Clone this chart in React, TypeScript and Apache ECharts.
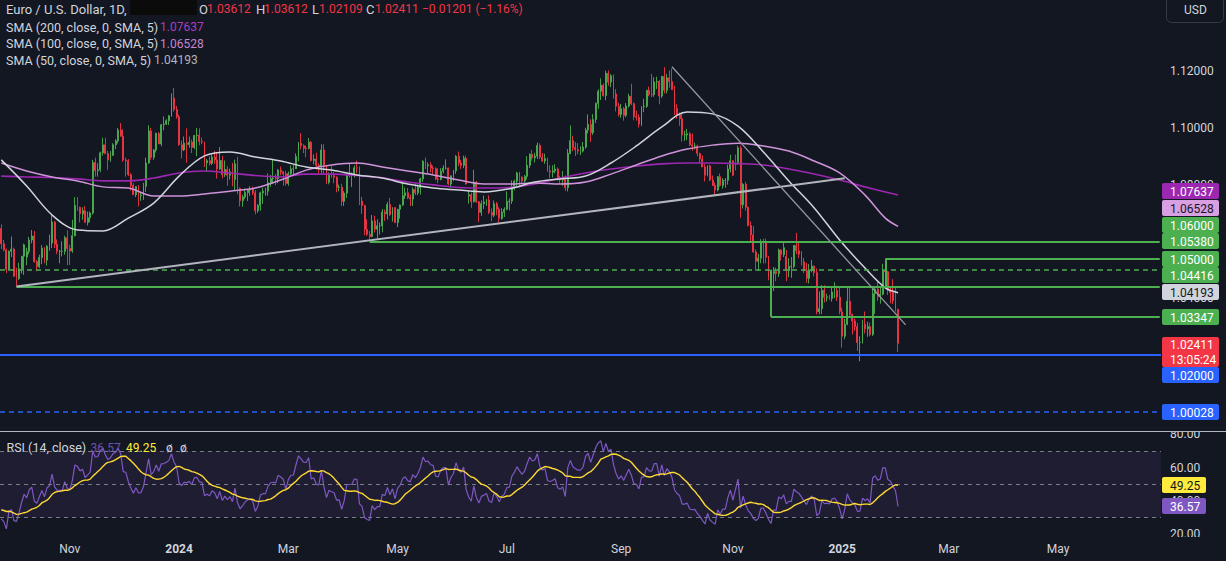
import React, { useEffect, useRef } from "react";
import * as echarts from "echarts";

// ---------------- DATA ----------------
// Daily OHLC [open, high, low, close], EUR/USD, grouped by month
const sep2023 = [
  [1.0645, 1.066, 1.0573, 1.0592], [1.0592, 1.0605, 1.0565, 1.057], [1.057, 1.0575, 1.0488, 1.0502],
  [1.0502, 1.0568, 1.0496, 1.0565], [1.0565, 1.0617, 1.0545, 1.0573],
];
const oct2023 = [
  [1.0573, 1.0578, 1.0475, 1.0477], [1.0477, 1.0507, 1.04416, 1.0469], [1.0469, 1.0525, 1.0464, 1.0504],
  [1.0504, 1.0548, 1.0487, 1.0548], [1.0548, 1.0592, 1.0482, 1.0588], [1.0545, 1.0578, 1.0516, 1.0564],
  [1.0564, 1.0616, 1.0555, 1.0605], [1.0605, 1.064, 1.0593, 1.0619], [1.0619, 1.0637, 1.0525, 1.0529],
  [1.0529, 1.0534, 1.0495, 1.0511], [1.0511, 1.0553, 1.0506, 1.0543], [1.0543, 1.0587, 1.052, 1.0576],
  [1.0576, 1.058, 1.0523, 1.0534], [1.0534, 1.0587, 1.0515, 1.0583], [1.0583, 1.0624, 1.0567, 1.0594],
  [1.0594, 1.0695, 1.0576, 1.0668], [1.0668, 1.0672, 1.0577, 1.059], [1.059, 1.0607, 1.0555, 1.0565],
  [1.0565, 1.057, 1.0523, 1.0565], [1.0565, 1.06, 1.0547, 1.0565], [1.0565, 1.062, 1.0553, 1.0613],
  [1.0613, 1.0639, 1.0516, 1.0575],
];
const nov2023 = [
  [1.0575, 1.0588, 1.0517, 1.0566], [1.0566, 1.0676, 1.056, 1.062], [1.062, 1.0756, 1.0618, 1.0727],
  [1.0727, 1.0756, 1.0707, 1.072], [1.072, 1.0722, 1.0667, 1.0697], [1.0697, 1.072, 1.0676, 1.0708],
  [1.0708, 1.0724, 1.0666, 1.0667], [1.0667, 1.0705, 1.0656, 1.0683], [1.0683, 1.0705, 1.0667, 1.07],
  [1.07, 1.0887, 1.0694, 1.0878], [1.0878, 1.0895, 1.0828, 1.0849], [1.0849, 1.0875, 1.0828, 1.0852],
  [1.0852, 1.0916, 1.0844, 1.0912], [1.0912, 1.0965, 1.0902, 1.094], [1.094, 1.0965, 1.0909, 1.0909],
  [1.0909, 1.0919, 1.0852, 1.0887], [1.0887, 1.0918, 1.088, 1.0903], [1.0903, 1.0946, 1.0901, 1.094],
  [1.094, 1.096, 1.0925, 1.0954], [1.0954, 1.1, 1.0945, 1.0992], [1.0992, 1.1017, 1.0969, 1.097],
  [1.097, 1.0995, 1.088, 1.0887],
];
const dec2023 = [
  [1.0887, 1.0895, 1.0828, 1.0884], [1.0884, 1.089, 1.083, 1.0835], [1.0835, 1.084, 1.0779, 1.0797],
  [1.0797, 1.0805, 1.0764, 1.0764], [1.0764, 1.0794, 1.0756, 1.0793], [1.0793, 1.0799, 1.0723, 1.0761],
  [1.0761, 1.0774, 1.0743, 1.0763], [1.0763, 1.0806, 1.0746, 1.0794], [1.0794, 1.0895, 1.0774, 1.0876],
  [1.0876, 1.1009, 1.0874, 1.0989], [1.0989, 1.1, 1.0888, 1.0896], [1.0896, 1.0925, 1.0887, 1.0922],
  [1.0922, 1.0983, 1.0913, 1.098], [1.098, 1.0985, 1.0943, 1.0943], [1.0943, 1.1014, 1.0935, 1.1011],
  [1.1011, 1.104, 1.0991, 1.1013], [1.1013, 1.103, 1.101, 1.1025], [1.1025, 1.1045, 1.101, 1.1042],
  [1.1042, 1.1121, 1.1039, 1.1105], [1.1105, 1.114, 1.1057, 1.1064], [1.1064, 1.1077, 1.1032, 1.1039],
];
const jan2024 = [
  [1.1039, 1.1046, 1.0937, 1.094], [1.094, 1.0955, 1.0892, 1.0922], [1.0922, 1.0969, 1.0918, 1.0946],
  [1.0946, 1.0998, 1.0877, 1.0941], [1.0941, 1.0969, 1.093, 1.095], [1.095, 1.0959, 1.0911, 1.0931],
  [1.0931, 1.0975, 1.0925, 1.0973], [1.0973, 1.0999, 1.09, 1.0974], [1.0974, 1.0998, 1.0938, 1.0952],
  [1.0952, 1.0966, 1.0942, 1.095], [1.095, 1.0951, 1.0862, 1.0877], [1.0877, 1.089, 1.0844, 1.0884],
  [1.0884, 1.0899, 1.0867, 1.0875], [1.0875, 1.0906, 1.0869, 1.0897], [1.0897, 1.0919, 1.0873, 1.0887],
  [1.0887, 1.0915, 1.0821, 1.0855], [1.0855, 1.0932, 1.0852, 1.0885], [1.0885, 1.0901, 1.0822, 1.0835],
  [1.0835, 1.0885, 1.0827, 1.0853], [1.0853, 1.0865, 1.0796, 1.0833], [1.0833, 1.0856, 1.0818, 1.0845],
  [1.0845, 1.0876, 1.0794, 1.0818],
];
const feb2024 = [
  [1.0818, 1.0888, 1.078, 1.0873], [1.0873, 1.0898, 1.0766, 1.0787], [1.0787, 1.079, 1.0723, 1.0743],
  [1.0743, 1.0764, 1.0722, 1.0756], [1.0756, 1.0786, 1.0749, 1.0772], [1.0772, 1.0783, 1.0742, 1.0781],
  [1.0781, 1.0794, 1.0761, 1.0785], [1.0785, 1.0793, 1.0763, 1.0771], [1.0771, 1.0781, 1.0695, 1.0708],
  [1.0708, 1.0731, 1.0701, 1.0727], [1.0727, 1.0775, 1.0708, 1.0771], [1.0771, 1.0789, 1.0732, 1.0777],
  [1.0777, 1.0789, 1.0761, 1.0777], [1.0777, 1.0839, 1.0761, 1.0807], [1.0807, 1.0834, 1.0793, 1.0821],
  [1.0821, 1.0888, 1.0803, 1.0823], [1.0823, 1.0837, 1.0798, 1.0821], [1.0821, 1.0855, 1.0805, 1.0851],
  [1.0851, 1.0864, 1.0833, 1.0845], [1.0845, 1.0847, 1.0796, 1.0838], [1.0838, 1.0848, 1.0796, 1.0804],
];
const mar2024 = [
  [1.0804, 1.0846, 1.0796, 1.0838], [1.0838, 1.0867, 1.0832, 1.0855], [1.0855, 1.087, 1.0831, 1.0856],
  [1.0856, 1.091, 1.0855, 1.0899], [1.0899, 1.095, 1.0882, 1.0946], [1.0946, 1.0981, 1.0924, 1.0937],
  [1.0937, 1.0942, 1.0911, 1.0928], [1.0928, 1.0937, 1.0896, 1.0927], [1.0927, 1.0964, 1.0924, 1.0949],
  [1.0949, 1.0954, 1.0881, 1.0885], [1.0885, 1.0906, 1.0871, 1.089], [1.089, 1.0912, 1.0853, 1.0868],
  [1.0868, 1.0875, 1.0835, 1.0865], [1.0865, 1.0942, 1.0839, 1.0922], [1.0922, 1.0942, 1.0838, 1.0862],
  [1.0862, 1.0867, 1.0802, 1.0808], [1.0808, 1.0843, 1.0801, 1.0838], [1.0838, 1.0865, 1.0824, 1.0831],
  [1.0831, 1.0845, 1.0805, 1.0826], [1.0826, 1.0829, 1.0773, 1.079], [1.079, 1.08, 1.0776, 1.0791],
];
const apr2024 = [
  [1.0791, 1.0803, 1.0724, 1.0741], [1.0741, 1.0777, 1.0725, 1.077], [1.077, 1.0838, 1.0753, 1.0836],
  [1.0836, 1.0876, 1.0826, 1.0836], [1.0836, 1.0843, 1.0792, 1.0837], [1.0837, 1.0868, 1.0825, 1.0859],
  [1.0859, 1.0885, 1.084, 1.0858], [1.0858, 1.0865, 1.0728, 1.0742], [1.0742, 1.0757, 1.0697, 1.0726],
  [1.0726, 1.0729, 1.0622, 1.0642], [1.0642, 1.0678, 1.0619, 1.0625], [1.0625, 1.0637, 1.0601, 1.0617],
  [1.0617, 1.0693, 1.0615, 1.0672], [1.0672, 1.069, 1.0631, 1.0643], [1.0643, 1.0678, 1.061, 1.0655],
  [1.0655, 1.0667, 1.0624, 1.0655], [1.0655, 1.0714, 1.0632, 1.0703], [1.0703, 1.0712, 1.0672, 1.0697],
  [1.0697, 1.0739, 1.0677, 1.073], [1.073, 1.0753, 1.069, 1.0694], [1.0694, 1.072, 1.067, 1.0719],
  [1.0719, 1.072, 1.0665, 1.0666],
];
const may2024 = [
  [1.0666, 1.0715, 1.065, 1.0713], [1.0713, 1.073, 1.068, 1.0728], [1.0728, 1.0812, 1.0725, 1.0761],
  [1.0761, 1.079, 1.075, 1.0771], [1.0771, 1.0788, 1.0749, 1.0754], [1.0754, 1.0765, 1.0724, 1.0749],
  [1.0749, 1.079, 1.0725, 1.0783], [1.0783, 1.0804, 1.0763, 1.0771], [1.0771, 1.0801, 1.0763, 1.079],
  [1.079, 1.0824, 1.0765, 1.082], [1.082, 1.0886, 1.081, 1.0882], [1.0882, 1.0895, 1.0855, 1.0866],
  [1.0866, 1.0878, 1.084, 1.087], [1.087, 1.0879, 1.0843, 1.0858], [1.0858, 1.0867, 1.0836, 1.0856],
  [1.0856, 1.0861, 1.0815, 1.082], [1.082, 1.0858, 1.0805, 1.0818], [1.0818, 1.0858, 1.0815, 1.0847],
  [1.0847, 1.0868, 1.084, 1.0858], [1.0858, 1.0889, 1.0853, 1.0858], [1.0858, 1.086, 1.0798, 1.0802],
  [1.0802, 1.0832, 1.0788, 1.0831], [1.0831, 1.0852, 1.0812, 1.0849],
];
const jun2024 = [
  [1.0849, 1.0904, 1.0838, 1.09], [1.09, 1.0916, 1.0865, 1.0876], [1.0876, 1.0887, 1.0855, 1.0868],
  [1.0868, 1.0902, 1.0858, 1.0893], [1.0893, 1.0902, 1.08, 1.0802], [1.076, 1.078, 1.0733, 1.0764],
  [1.0764, 1.0772, 1.0718, 1.074], [1.074, 1.0852, 1.0737, 1.0808], [1.0808, 1.0813, 1.0735, 1.074],
  [1.074, 1.0742, 1.0668, 1.0702], [1.0702, 1.0744, 1.069, 1.0733], [1.0733, 1.0761, 1.0714, 1.0739],
  [1.0739, 1.0749, 1.0725, 1.0746], [1.0746, 1.0762, 1.0696, 1.0702], [1.0702, 1.0716, 1.0671, 1.0692],
  [1.0692, 1.0744, 1.0685, 1.0733], [1.0733, 1.0739, 1.0692, 1.0714], [1.0714, 1.072, 1.0666, 1.0681],
  [1.0681, 1.0717, 1.0676, 1.0703], [1.0703, 1.072, 1.0686, 1.0713],
];
const jul2024 = [
  [1.0713, 1.0776, 1.071, 1.074], [1.074, 1.0752, 1.0709, 1.0742], [1.0742, 1.0815, 1.0732, 1.0792],
  [1.0792, 1.0817, 1.078, 1.0812], [1.0812, 1.0845, 1.0795, 1.0841], [1.0841, 1.0845, 1.079, 1.0826],
  [1.0826, 1.0829, 1.0802, 1.0813], [1.0813, 1.0834, 1.0807, 1.0829], [1.0829, 1.09, 1.0818, 1.0868],
  [1.0868, 1.091, 1.0858, 1.0907], [1.0907, 1.0922, 1.0884, 1.0894], [1.0894, 1.0912, 1.0878, 1.09],
  [1.09, 1.0948, 1.089, 1.0938], [1.0938, 1.0945, 1.089, 1.0897], [1.0897, 1.0911, 1.088, 1.0883],
  [1.0883, 1.0909, 1.0873, 1.0892], [1.0892, 1.0895, 1.0845, 1.0848], [1.0848, 1.0868, 1.0822, 1.0844],
  [1.0844, 1.0868, 1.0825, 1.0848], [1.0848, 1.0872, 1.084, 1.0855], [1.0855, 1.086, 1.0814, 1.0823],
  [1.0823, 1.0831, 1.0802, 1.0817], [1.0817, 1.0848, 1.0796, 1.0825],
];
const aug2024 = [
  [1.0825, 1.0832, 1.0778, 1.0789], [1.0789, 1.0925, 1.0776, 1.091], [1.091, 1.1008, 1.0907, 1.0955],
  [1.0955, 1.0972, 1.0918, 1.0931], [1.0931, 1.095, 1.0901, 1.0923], [1.0923, 1.0946, 1.0907, 1.0918],
  [1.0918, 1.0935, 1.0904, 1.0918], [1.0918, 1.095, 1.0913, 1.0932], [1.0932, 1.1, 1.0926, 1.0992],
  [1.0992, 1.1047, 1.098, 1.1012], [1.1012, 1.103, 1.095, 1.0983], [1.0983, 1.1048, 1.0975, 1.1029],
  [1.1029, 1.1089, 1.1017, 1.1086], [1.1086, 1.1135, 1.1067, 1.1129], [1.1129, 1.1174, 1.1098, 1.115],
  [1.115, 1.1156, 1.111, 1.1113], [1.1113, 1.1201, 1.1097, 1.1192], [1.1192, 1.1202, 1.1148, 1.1161],
  [1.1161, 1.1189, 1.1143, 1.1183], [1.1183, 1.1188, 1.1102, 1.1119], [1.1119, 1.1136, 1.1058, 1.1076],
  [1.1076, 1.1088, 1.104, 1.1047],
];
const sep2024 = [
  [1.1047, 1.1084, 1.1035, 1.1067], [1.1067, 1.1073, 1.1025, 1.1044], [1.1044, 1.1087, 1.1037, 1.1077],
  [1.1077, 1.112, 1.1071, 1.1111], [1.1111, 1.1155, 1.108, 1.1085], [1.1085, 1.1089, 1.1026, 1.104],
  [1.104, 1.106, 1.1025, 1.1037], [1.1037, 1.1047, 1.1001, 1.1013], [1.1013, 1.1076, 1.1006, 1.1075],
  [1.1075, 1.1102, 1.1055, 1.1076], [1.1076, 1.1134, 1.107, 1.1132], [1.1132, 1.1145, 1.1111, 1.1118],
  [1.1118, 1.119, 1.1108, 1.1117], [1.1117, 1.1178, 1.1109, 1.1162], [1.1162, 1.118, 1.1137, 1.1163],
  [1.1163, 1.1168, 1.1083, 1.1112], [1.1112, 1.1182, 1.1105, 1.1181], [1.1181, 1.1214, 1.1121, 1.1132],
  [1.1132, 1.119, 1.1121, 1.1176], [1.1176, 1.1202, 1.1141, 1.1163], [1.1163, 1.1209, 1.1133, 1.1135],
];
const oct2024 = [
  [1.1135, 1.1148, 1.1045, 1.1068], [1.1068, 1.1083, 1.1032, 1.1045], [1.1045, 1.1054, 1.1007, 1.1032],
  [1.1032, 1.105, 1.0951, 1.0975], [1.0975, 1.099, 1.0954, 1.0975], [1.0975, 1.0996, 1.0957, 1.0979],
  [1.0979, 1.0985, 1.0936, 1.094], [1.094, 1.098, 1.0919, 1.0935], [1.0935, 1.0947, 1.0924, 1.0936],
  [1.0936, 1.0941, 1.09, 1.091], [1.091, 1.0912, 1.0874, 1.089], [1.089, 1.0903, 1.0862, 1.0862],
  [1.0862, 1.0872, 1.0811, 1.0833], [1.0833, 1.0868, 1.0829, 1.0866], [1.0866, 1.087, 1.0812, 1.0816],
  [1.0816, 1.0832, 1.0795, 1.0797], [1.0797, 1.0807, 1.0761, 1.0781], [1.0781, 1.083, 1.0776, 1.0828],
  [1.0828, 1.0839, 1.0793, 1.0797], [1.0797, 1.0823, 1.0786, 1.0815], [1.0815, 1.0823, 1.0789, 1.0815],
  [1.0815, 1.087, 1.08, 1.0855], [1.0855, 1.0905, 1.0843, 1.0884],
];
const nov2024 = [
  [1.0884, 1.0885, 1.083, 1.0833], [1.088, 1.0906, 1.085, 1.0877], [1.0877, 1.0937, 1.087, 1.0929],
  [1.0929, 1.0937, 1.0683, 1.0729], [1.0729, 1.0805, 1.0716, 1.0801], [1.0801, 1.081, 1.0708, 1.072],
  [1.072, 1.0723, 1.0653, 1.0656], [1.0656, 1.067, 1.0595, 1.0623], [1.0623, 1.0653, 1.056, 1.0563],
  [1.0563, 1.0572, 1.0497, 1.053], [1.053, 1.0556, 1.0497, 1.0541], [1.0541, 1.0608, 1.0523, 1.0598],
  [1.0598, 1.0609, 1.0522, 1.0597], [1.0597, 1.061, 1.0523, 1.0544], [1.0544, 1.0549, 1.0463, 1.0474],
  [1.0474, 1.0498, 1.03347, 1.0418], [1.0487, 1.051, 1.0425, 1.0494], [1.0494, 1.0508, 1.046, 1.0487],
  [1.0487, 1.0575, 1.0475, 1.057], [1.057, 1.0572, 1.0532, 1.0553], [1.0553, 1.0596, 1.0545, 1.0578],
];
const dec2024 = [
  [1.0547, 1.057, 1.046, 1.0497], [1.0497, 1.0541, 1.0474, 1.0512], [1.0512, 1.0545, 1.0472, 1.0512],
  [1.0512, 1.0587, 1.0505, 1.0586], [1.0586, 1.063, 1.0555, 1.0567], [1.0567, 1.0595, 1.0541, 1.0555],
  [1.0555, 1.0566, 1.0515, 1.0528], [1.0528, 1.0542, 1.0488, 1.0497], [1.0497, 1.0524, 1.0454, 1.047],
  [1.047, 1.052, 1.0452, 1.05], [1.05, 1.0535, 1.0491, 1.0513], [1.0513, 1.0515, 1.0477, 1.049],
  [1.049, 1.0505, 1.0343, 1.0352], [1.0352, 1.0424, 1.0343, 1.0363], [1.0363, 1.0446, 1.0344, 1.0428],
  [1.0428, 1.0446, 1.0385, 1.0403], [1.0403, 1.0416, 1.0388, 1.0405], [1.0405, 1.0412, 1.0394, 1.0399],
  [1.0399, 1.0436, 1.0388, 1.0422], [1.0422, 1.0456, 1.04, 1.0427], [1.0427, 1.0444, 1.039, 1.0404],
  [1.0404, 1.0436, 1.0343, 1.0354],
];
const jan2025 = [
  [1.0352, 1.0367, 1.0226, 1.0266], [1.0266, 1.0327, 1.0256, 1.0308], [1.0308, 1.0437, 1.0305, 1.0389],
  [1.0389, 1.0437, 1.0338, 1.0342], [1.0342, 1.0346, 1.0272, 1.032], [1.032, 1.0328, 1.0286, 1.03],
  [1.03, 1.0313, 1.0214, 1.0244], [1.0244, 1.0266, 1.0178, 1.0245], [1.0245, 1.0324, 1.024, 1.0308],
  [1.0308, 1.0353, 1.0276, 1.0292], [1.0292, 1.0317, 1.0264, 1.03], [1.03, 1.0314, 1.0266, 1.0272],
  [1.0272, 1.0434, 1.0267, 1.0416], [1.0416, 1.0436, 1.0345, 1.0432], [1.0432, 1.0457, 1.0391, 1.0406],
  [1.0406, 1.0437, 1.0381, 1.0414], [1.0414, 1.0521, 1.041, 1.0496], [1.0496, 1.0538, 1.0432, 1.0493],
  [1.0493, 1.0497, 1.0411, 1.043], [1.043, 1.0442, 1.0382, 1.042], [1.042, 1.0467, 1.038, 1.0391],
  [1.0391, 1.0441, 1.0353, 1.0362],
];
const feb2025 = [[1.03612, 1.03612, 1.02109, 1.02411]];

// closes before the visible window (seed for RSI)
const priorCloses = [
  1.0906, 1.0904, 1.0873, 1.0872, 1.0872, 1.0894, 1.0846, 1.0865, 1.0797, 1.0795, 1.0818, 1.088,
  1.0922, 1.0844, 1.0775, 1.0795, 1.0722, 1.0726, 1.0697, 1.07, 1.075, 1.0752, 1.0731, 1.0643,
  1.0659, 1.069, 1.0678, 1.0662, 1.066, 1.0644,
];

// SMA readings (bar index -> value)
const smaIndex = [0, 10, 20, 30, 40, 50, 60, 70, 80, 90, 100, 110, 120, 130, 140, 150, 160, 170, 180, 190,
  200, 210, 220, 230, 240, 250, 260, 270, 280, 290, 300, 310, 320, 330, 340, 348, 353];
const sma200 = [1.083, 1.0827, 1.0825, 1.082, 1.0813, 1.0813, 1.0823, 1.0841, 1.0848, 1.0841, 1.0832,
  1.0827, 1.0837, 1.0837, 1.0832, 1.0823, 1.0809, 1.0799, 1.079, 1.0788, 1.079, 1.0802, 1.0823, 1.0841,
  1.0855, 1.0865, 1.0873, 1.0876, 1.0876, 1.0874, 1.0869, 1.0855, 1.0837, 1.0816, 1.0792, 1.0774, 1.07637];
const sma100 = [1.0876, 1.0848, 1.0827, 1.0813, 1.0792, 1.0788, 1.076, 1.076, 1.0767, 1.0777, 1.0788,
  1.0816, 1.0851, 1.0869, 1.0876, 1.0862, 1.0848, 1.0834, 1.0816, 1.0802, 1.0802, 1.0806, 1.0802, 1.0809,
  1.0837, 1.0869, 1.0901, 1.0925, 1.0939, 1.0946, 1.0936, 1.0918, 1.0883, 1.0841, 1.0763, 1.0682, 1.06528];
const sma50 = [1.0887, 1.0795, 1.0693, 1.064, 1.0637, 1.0682, 1.0735, 1.083, 1.0901, 1.0915, 1.0897,
  1.0883, 1.0862, 1.0851, 1.0834, 1.0823, 1.0802, 1.0788, 1.0781, 1.0774, 1.0785, 1.0809, 1.082, 1.083,
  1.0876, 1.0936, 1.1003, 1.1056, 1.1049, 1.1006, 1.0915, 1.0813, 1.0718, 1.0605, 1.0506, 1.0436, 1.04193];

// time axis
const startDate = "2023-09-25";
const marketClosed = ["2024-01-01", "2025-01-01"];
const categoryCount = 457;
const monthNames = ["Jan", "Feb", "Mar", "Apr", "May", "Jun", "Jul", "Aug", "Sep", "Oct", "Nov", "Dec"];

// axis ticks (levels fully covered by price badges are not drawn)
const priceTicks = [1.04, 1.08, 1.1, 1.12];
const rsiTicks = [20, 40, 60, 80];
const rsiLevels = [70, 50, 30];

// drawings (bar index, price)
const fullLevels = [
  { price: 1.05, kind: "greenDash" },
  { price: 1.02, kind: "blue" },
  { price: 1.00028, kind: "blueDash" },
];
const rayLevels = [
  { from: 6, price: 1.04416 },
  { from: 145, price: 1.06 },
  { from: 348, price: 1.0538 },
  { from: 303, price: 1.03347 },
];
const verticalMarks = [
  { at: 303, from: 1.05, to: 1.03347 },
  { at: 348, from: 1.0538, to: 1.04416 },
];
const trendLines = [
  { from: [6, 1.04416], to: [332, 1.0822], color: "#b2b5be", width: 2 },
  { from: [264, 1.1215], to: [356, 1.0306], color: "#9598a1", width: 1.3 },
];

// price-scale badges
const priceBadges = [
  { text: "1.07637", bg: "#9c27b0", fg: "#ffffff" },
  { text: "1.06528", bg: "#d89fe2", fg: "#131722" },
  { text: "1.06000", bg: "#4caf50", fg: "#ffffff" },
  { text: "1.05380", bg: "#4caf50", fg: "#ffffff" },
  { text: "1.05000", bg: "#4caf50", fg: "#ffffff" },
  { text: "1.04416", bg: "#4caf50", fg: "#ffffff" },
  { text: "1.04193", bg: "#d1d4dc", fg: "#131722" },
  { text: "1.03347", bg: "#4caf50", fg: "#ffffff" },
  { text: "1.02000", bg: "#2962ff", fg: "#ffffff" },
  { text: "1.00028", bg: "#2962ff", fg: "#ffffff" },
];
const badgeTops = [183, 200, 217, 233, 251, 267, 284, 309, 367, 404];
const lastPrice = { text: "1.02411", countdown: "13:05:24" };
const rsiBadges = [
  { text: "49.25", bg: "#ffeb3b", fg: "#131722" },
  { text: "36.57", bg: "#7e57c2", fg: "#ffffff" },
];
const rsiBadgeTops = [477, 498];

// ---------------- STYLE ----------------
const BG = "#131722";
const TXT = "#d1d4dc";
const UP = "#4caf50";
const DOWN = "#f23645";
const FONT = "Roboto";

function buildCategories(): string[] {
  const out: string[] = [];
  const d = new Date(startDate + "T00:00:00Z");
  while (out.length < categoryCount) {
    const dow = d.getUTCDay();
    const iso = d.toISOString().slice(0, 10);
    if (dow !== 0 && dow !== 6 && !marketClosed.includes(iso)) out.push(iso);
    d.setUTCDate(d.getUTCDate() + 1);
  }
  return out;
}

function computeRsi(closes: number[], period: number): (number | null)[] {
  const out: (number | null)[] = [null];
  let ag = 0;
  let al = 0;
  for (let i = 1; i < closes.length; i++) {
    const ch = closes[i] - closes[i - 1];
    const g = Math.max(ch, 0);
    const l = Math.max(-ch, 0);
    if (i <= period) {
      ag += g / period;
      al += l / period;
      out.push(i === period ? 100 - 100 / (1 + ag / al) : null);
    } else {
      ag = (ag * (period - 1) + g) / period;
      al = (al * (period - 1) + l) / period;
      out.push(al === 0 ? 100 : 100 - 100 / (1 + ag / al));
    }
  }
  return out;
}

function movingAverage(vals: (number | null)[], n: number): (number | null)[] {
  return vals.map((_, i) => {
    const win = vals.slice(Math.max(0, i - n + 1), i + 1).filter((v) => v != null) as number[];
    if (win.length < n) return null;
    return win.reduce((a, b) => a + b, 0) / n;
  });
}

export default function App() {
  const ref = useRef<HTMLDivElement>(null);

  useEffect(() => {
    document.body.style.margin = "0";
    document.body.style.background = BG;
    if (!ref.current) return;
    const chart = echarts.init(ref.current, undefined, { renderer: "svg" });

    const categories = buildCategories();
    const months = [sep2023, oct2023, nov2023, dec2023, jan2024, feb2024, mar2024, apr2024, may2024,
      jun2024, jul2024, aug2024, sep2024, oct2024, nov2024, dec2024, jan2025, feb2025];
    const ohlc = months.flat();
    const candleData = ohlc.map(([o, h, l, c]) => [o, c, l, h]);
    const closes = ohlc.map((r) => r[3]);

    const rsiAll = computeRsi([...priorCloses, ...closes], 14);
    const rsiMaAll = movingAverage(rsiAll, 14);
    const rsi = rsiAll.slice(priorCloses.length).map((v) => (v == null ? null : +v.toFixed(2)));
    const rsiMa = rsiMaAll.slice(priorCloses.length).map((v) => (v == null ? null : +v.toFixed(2)));

    const sampled = (vals: number[]) => {
      const arr: (number | null)[] = new Array(ohlc.length).fill(null);
      smaIndex.forEach((idx, k) => (arr[idx] = vals[k]));
      return arr;
    };

    const firstOfMonth = new Set<number>();
    categories.forEach((c, i) => {
      if (i > 0 && c.slice(0, 7) !== categories[i - 1].slice(0, 7)) firstOfMonth.add(i);
    });
    const lastIdx = categories.length - 1;

    const levelStyle: Record<string, any> = {
      greenDash: { color: UP, width: 1.5, type: [5, 4] },
      blue: { color: "#2962ff", width: 2, type: "solid" },
      blueDash: { color: "#2962ff", width: 1.5, type: [5, 4] },
    };
    const green = { color: UP, width: 2, type: "solid" };

    const markLineData: any[] = [
      ...fullLevels.map((l) => ({ yAxis: l.price, lineStyle: levelStyle[l.kind] })),
      ...rayLevels.map((r) => [
        { coord: [categories[r.from], r.price], lineStyle: green },
        { coord: [categories[lastIdx], r.price] },
      ]),
      ...verticalMarks.map((v) => [
        { coord: [categories[v.at], v.from], lineStyle: green },
        { coord: [categories[v.at], v.to] },
      ]),
      ...trendLines.map((t) => [
        { coord: [categories[t.from[0]], t.from[1]], lineStyle: { color: t.color, width: t.width, type: "solid" } },
        { coord: [categories[t.to[0]], t.to[1]] },
      ]),
    ];

    const text = (x: number, y: number, s: string, fill: string, size = 13, weight = "normal") => ({
      type: "text",
      x,
      y,
      silent: true,
      z: 100,
      style: {
        text: s,
        fill,
        fontSize: size,
        fontFamily: FONT,
        fontWeight: weight,
        align: "left",
        textAlign: "left",
        verticalAlign: "middle",
        textVerticalAlign: "middle",
      },
    });

    const badge = (top: number, w: number, h: number, bg: string) => ({
      type: "rect",
      silent: true,
      z: 90,
      shape: { x: 1162, y: top, width: w, height: h, r: 2 },
      style: { fill: bg },
    });

    const graphic: any[] = [
      // clip covers for RSI scale labels
      { type: "rect", silent: true, z: 80, shape: { x: 1162, y: 421, width: 64, height: 10.5 }, style: { fill: BG } },
      { type: "rect", silent: true, z: 80, shape: { x: 1162, y: 537, width: 64, height: 12 }, style: { fill: BG } },
      // pane separator
      { type: "line", silent: true, z: 85, shape: { x1: 0, y1: 431.5, x2: 1226, y2: 431.5 }, style: { stroke: "#b2b5be", lineWidth: 1 } },
      // USD box
      { type: "rect", silent: true, z: 90, shape: { x: 1166.5, y: -6, width: 57, height: 28.5, r: 5 }, style: { fill: "none", stroke: "#363a45", lineWidth: 1 } },
      text(1184, 10, "USD", TXT, 12),
      // legend
      text(6, 9, "Euro / U.S. Dollar, 1D,", TXT),
      { type: "rect", silent: true, z: 100, shape: { x: 130, y: 0, width: 67, height: 15 }, style: { fill: "#0b0b0c" } },
      text(199, 9, "O", TXT),
      text(207, 9, "1.03612", DOWN, 12),
      text(256, 9, "H", TXT),
      text(264, 9, "1.03612", DOWN, 12),
      text(312, 9, "L", TXT),
      text(319, 9, "1.02109", DOWN, 12),
      text(366, 9, "C", TXT),
      text(375, 9, "1.02411", DOWN, 12),
      text(422, 9, "\u22120.01201 (\u22121.16%)", DOWN, 12),
      text(6, 27, "SMA (200, close, 0, SMA, 5)", TXT, 12.5),
      text(160, 27, "1.07637", "#a93fc0", 12),
      text(6, 43.5, "SMA (100, close, 0, SMA, 5)", TXT, 12.5),
      text(160, 43.5, "1.06528", "#c585d0", 12),
      text(6, 60, "SMA (50, close, 0, SMA, 5)", TXT, 12.5),
      text(154, 60, "1.04193", "#b2b5be", 12),
      text(6.5, 447.5, "RSI (14, close)", TXT, 12.5),
      text(90.5, 447.5, "36.57", "#6f51ad", 12),
      text(126, 447.5, "49.25", "#ffeb3b", 12),
      text(166, 447.5, "\u00f8", TXT, 12),
      text(180, 447.5, "\u00f8", TXT, 12),
      // badges
      ...priceBadges.flatMap((b, i) => [badge(badgeTops[i], 57, 16, b.bg), text(1170, badgeTops[i] + 8.5, b.text, b.fg, 12)]),
      badge(337, 57, 30, DOWN),
      text(1170, 344.5, lastPrice.text, "#ffffff", 12),
      text(1170, 359.5, lastPrice.countdown, "#ffffff", 12),
      ...rsiBadges.flatMap((b, i) => [badge(rsiBadgeTops[i], 44, 16, b.bg), text(1170, rsiBadgeTops[i] + 8.5, b.text, b.fg, 12)]),
    ];

    const option: any = {
      animation: false,
      backgroundColor: BG,
      grid: [
        { left: 0, top: 0, width: 1161, height: 431 },
        { left: 0, top: 432, width: 1161, height: 105 },
      ],
      xAxis: [
        {
          type: "category", gridIndex: 0, data: categories, boundaryGap: true,
          axisLine: { show: false }, axisTick: { show: false }, axisLabel: { show: false }, splitLine: { show: false },
        },
        {
          type: "category", gridIndex: 1, data: categories, boundaryGap: true,
          axisLine: { show: false }, axisTick: { show: false }, splitLine: { show: false },
          axisLabel: {
            show: true,
            margin: 6,
            color: TXT,
            fontSize: 12,
            fontFamily: FONT,
            hideOverlap: false,
            interval: (i: number, v: string) => firstOfMonth.has(i) && Number(v.slice(5, 7)) % 2 === 1,
            formatter: (v: string) => {
              const m = Number(v.slice(5, 7)) - 1;
              return m === 0 ? "{y|" + v.slice(0, 4) + "}" : monthNames[m];
            },
            rich: { y: { fontWeight: "bold", fontSize: 12, color: TXT, fontFamily: FONT } },
          },
        },
      ],
      yAxis: [
        {
          type: "value", gridIndex: 0, position: "right", min: 0.993239, max: 1.145, scale: true,
          axisLine: { show: false }, axisTick: { show: false }, splitLine: { show: false },
          axisLabel: {
            customValues: priceTicks, margin: 9, color: TXT, fontSize: 12, fontFamily: FONT,
            formatter: (v: number) => v.toFixed(5),
          },
        },
        {
          type: "value", gridIndex: 1, position: "right", min: 18.4, max: 81.4,
          axisLine: { show: false }, axisTick: { show: false }, splitLine: { show: false },
          axisLabel: {
            customValues: rsiTicks, margin: 9, color: TXT, fontSize: 12, fontFamily: FONT,
            formatter: (v: number) => v.toFixed(2),
          },
        },
      ],
      series: [
        {
          type: "candlestick",
          xAxisIndex: 0,
          yAxisIndex: 0,
          data: candleData,
          barWidth: 1.4,
          z: 3,
          itemStyle: { color: UP, color0: DOWN, borderColor: UP, borderColor0: DOWN, borderWidth: 0.9 },
          markLine: {
            silent: true,
            symbol: ["none", "none"],
            label: { show: false },
            data: markLineData,
            z: 6,
          },
        },
        {
          type: "line", xAxisIndex: 0, yAxisIndex: 0, data: sampled(sma200), connectNulls: true,
          showSymbol: false, symbol: "none", smooth: 0.35, z: 4,
          lineStyle: { color: "#9c27b0", width: 1.6 },
        },
        {
          type: "line", xAxisIndex: 0, yAxisIndex: 0, data: sampled(sma100), connectNulls: true,
          showSymbol: false, symbol: "none", smooth: 0.35, z: 4,
          lineStyle: { color: "#ce93d8", width: 1.5 },
        },
        {
          type: "line", xAxisIndex: 0, yAxisIndex: 0, data: sampled(sma50), connectNulls: true,
          showSymbol: false, symbol: "none", smooth: 0.35, z: 4,
          lineStyle: { color: "#d1d4dc", width: 1.5 },
        },
        {
          type: "line", xAxisIndex: 1, yAxisIndex: 1, data: rsi, showSymbol: false, symbol: "none", z: 4,
          lineStyle: { color: "#7e57c2", width: 1.2 },
          markArea: {
            silent: true,
            itemStyle: { color: "rgba(126, 87, 194, 0.1)" },
            data: [[{ yAxis: 30 }, { yAxis: 70 }]],
          },
          markLine: {
            silent: true,
            symbol: ["none", "none"],
            label: { show: false },
            lineStyle: { color: "#787b86", width: 1, type: [4, 4] },
            data: rsiLevels.map((v) => ({ yAxis: v })),
          },
        },
        {
          type: "line", xAxisIndex: 1, yAxisIndex: 1, data: rsiMa, showSymbol: false, symbol: "none", z: 5,
          lineStyle: { color: "#fdd835", width: 1.4 },
        },
      ],
      graphic,
    };

    chart.setOption(option);
    return () => chart.dispose();
  }, []);

  return <div ref={ref} style={{ width: 1226, height: 561, background: BG }} />;
}
